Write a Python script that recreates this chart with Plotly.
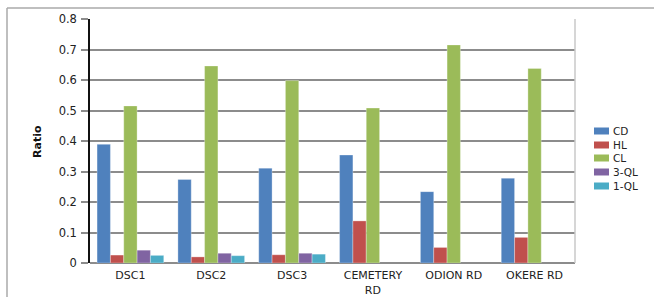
import plotly.graph_objects as go

categories = ["DSC1", "DSC2", "DSC3", "CEMETERY<br>RD", "ODION RD", "OKERE RD"]
series_names = ["CD", "HL", "CL", "3-QL", "1-QL"]
cd = [0.389, 0.274, 0.311, 0.354, 0.234, 0.278]
hl = [0.026, 0.020, 0.027, 0.138, 0.051, 0.084]
cl = [0.515, 0.646, 0.598, 0.508, 0.715, 0.638]
ql3 = [0.042, 0.032, 0.032, None, None, None]
ql1 = [0.025, 0.024, 0.029, None, None, None]
y_ticks = [0, 0.1, 0.2, 0.3, 0.4, 0.5, 0.6, 0.7, 0.8]
y_tick_labels = ["0", "0.1", "0.2", "0.3", "0.4", "0.5", "0.6", "0.7", "0.8"]

colors = ["#4F81BD", "#C0504D", "#9BBB59", "#8064A2", "#4BACC6"]
values = [cd, hl, cl, ql3, ql1]

W, H = 654, 297
L, R, T, B = 90, 575, 19, 263

def px(x):
    return (x - L) / (R - L)

def py(y):
    return (B - y) / (B - T)

fig = go.Figure()
for name, vals, col in zip(series_names, values, colors):
    fig.add_trace(go.Bar(x=categories, y=vals, name=name, marker_color=col,
                         marker_line_color="rgba(255,255,255,0.6)", marker_line_width=0.5,
                         showlegend=False))

font_main = "DejaVu Sans"
shapes = []
annotations = []
# manual legend
leg_y = [131, 145, 158, 172, 186]
for name, col, yy in zip(series_names, colors, leg_y):
    shapes.append(dict(type="rect", xref="paper", yref="paper",
                       x0=px(594), x1=px(609), y0=py(yy - 3.5), y1=py(yy + 3.5),
                       fillcolor=col, line=dict(width=0)))
    annotations.append(dict(xref="paper", yref="paper", x=px(611), y=py(yy),
                            text=name, showarrow=False, xanchor="left", yanchor="middle",
                            font=dict(family=font_main, size=10.5, color="#222")))
# right spine
shapes.append(dict(type="line", xref="paper", yref="paper", x0=1, x1=1, y0=0, y1=1,
                   line=dict(color="#c8c8c8", width=1.5)))
# outer frame lines
shapes.append(dict(type="line", xref="paper", yref="paper", x0=px(7), x1=px(654), y0=py(8), y1=py(8),
                   line=dict(color="#aaaaaa", width=1.5)))
shapes.append(dict(type="line", xref="paper", yref="paper", x0=px(7), x1=px(7), y0=py(8), y1=py(297),
                   line=dict(color="#aaaaaa", width=1.5)))
annotations.append(dict(xref="paper", yref="paper", x=px(37), y=py(142), text="<b>Ratio</b>",
                        textangle=-90, showarrow=False, xanchor="center", yanchor="middle",
                        font=dict(family=font_main, size=11, color="#111")))

fig.update_layout(
    width=W, height=H,
    margin=dict(l=L, r=W - R, t=T, b=H - B, pad=0),
    paper_bgcolor="white", plot_bgcolor="white",
    barmode="group", bargap=0.175, bargroupgap=0,
    showlegend=False,
    shapes=shapes, annotations=annotations,
    font=dict(family=font_main, size=11.5, color="#222"),
    xaxis=dict(showgrid=False, showline=False, ticks="outside", ticklen=2, tickcolor="rgba(0,0,0,0)",
               tickfont=dict(size=11, color="#222"), zeroline=False, automargin=False),
    yaxis=dict(range=[0, 0.8], tickvals=y_ticks, ticktext=y_tick_labels,
               showgrid=True, gridcolor="#8c8c8c", gridwidth=1.5,
               showline=True, linecolor="#111", linewidth=1.5,
               ticks="outside", ticklen=7, tickcolor="#8c8c8c", tickwidth=1.5,
               ticklabelstandoff=2,
               zeroline=True, zerolinecolor="#8c8c8c", zerolinewidth=2,
               tickfont=dict(size=11.5, color="#222"), automargin=False),
)

fig.write_html("out.html", config={"displayModeBar": False},
               post_script="document.body.style.margin='0';document.body.style.overflow='hidden';")
